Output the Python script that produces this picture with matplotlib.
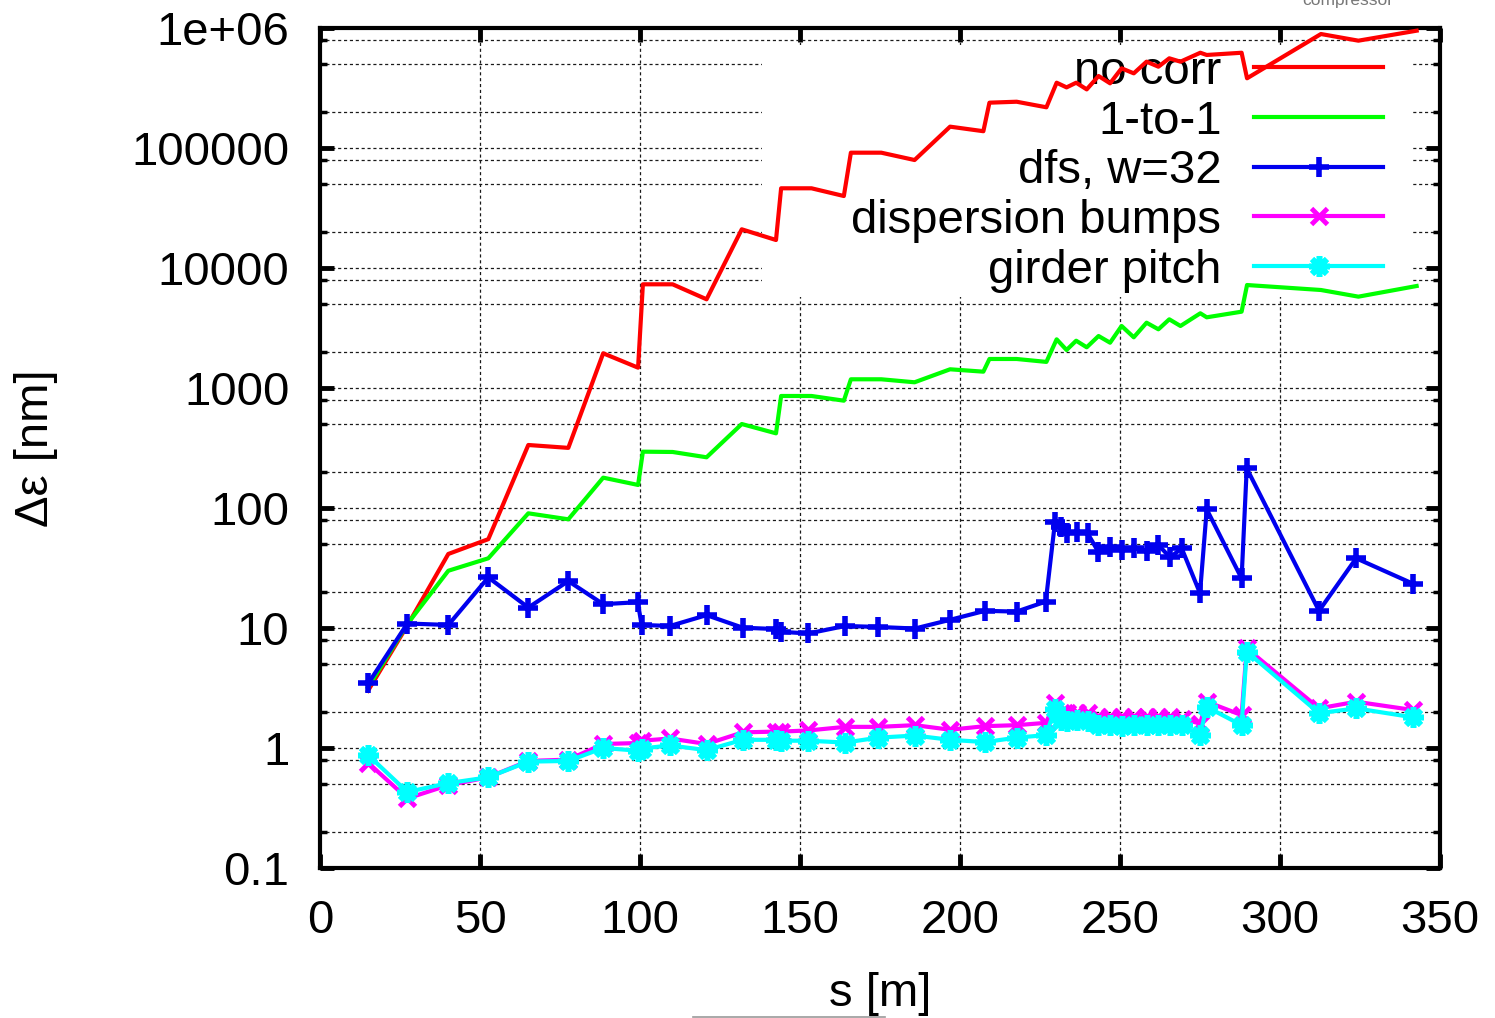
#!/usr/bin/env python3
import matplotlib

matplotlib.use("Agg")
import matplotlib.pyplot as plt
from matplotlib.lines import Line2D
from matplotlib.patches import Rectangle
from matplotlib.ticker import FuncFormatter, LogLocator, MultipleLocator, NullFormatter

OUTPUT_FILE = "out.png"

# positions along the beamline [m], for the two lines without markers
s_lines = [15.0, 27.3, 40.1, 52.6, 65.1, 77.6, 88.5, 99.4, 100.9, 110.2,
           120.8, 131.8, 142.5, 144.1, 153.6, 163.7, 165.9, 175.4, 185.8, 196.9,
           207.3, 209.2, 217.7, 227.0, 230.2, 233.3, 236.3, 239.6, 243.3, 246.9,
           250.5, 254.3, 258.3, 262.0, 265.4, 268.9, 275.1, 277.1, 288.0, 289.7,
           312.8, 324.5, 342.7]

no_corr = [3.0, 10.5, 41.4, 55.0, 335, 317, 1946, 1477, 7313, 7313,
           5486, 21010, 17110, 46150, 46150, 39800, 91400, 91400, 79400, 150600,
           138000, 238600, 243000, 218400, 350000, 320000, 350000, 308000, 398000, 346000,
           461000, 419000, 524000, 476000, 559000, 524000, 622000, 596000, 622000, 381000,
           891000, 784000, 950000]

one_to_one = [3.2, 10.8, 30.0, 38.1, 90.3, 80.5, 179, 155.6, 294.7, 293,
              264.6, 501, 419, 858, 858, 784, 1182, 1182, 1116, 1432,
              1368, 1745, 1745, 1650, 2545, 2074, 2478, 2184, 2712, 2385,
              3287, 2646, 3500, 3084, 3736, 3287, 4194, 3882, 4325, 7213,
              6556, 5770, 7079]

# positions for the corrected cases (with markers)
s_marks = [15.1, 27.3, 40.1, 52.6, 65.1, 77.6, 88.5, 99.3, 100.5, 109.4,
           120.8, 132.1, 142.6, 144.0, 152.6, 164.1, 174.5, 185.9, 196.9, 207.8,
           217.7, 226.8, 229.7, 231.5, 233.3, 236.5, 239.9, 243.2, 246.9, 250.5,
           254.5, 258.3, 262.0, 265.6, 269.3, 275.0, 277.1, 288.0, 289.6, 312.2,
           323.8, 341.7]

dfs_w32 = [3.46, 10.9, 10.6, 26.4, 14.8, 24.6, 15.8, 16.4, 10.6, 10.4,
           12.8, 10.06, 9.8, 9.3, 9.0, 10.4, 10.2, 9.9, 11.7, 13.9,
           13.7, 16.6, 77, 69.9, 62.2, 63, 61.5, 43.2, 47.6, 44.7,
           46.7, 44.0, 49.2, 38.8, 46, 19.5, 97.5, 25.9, 214, 13.9,
           38.1, 23.3]

disp_bumps = [0.75, 0.38, 0.49, 0.57, 0.78, 0.8, 1.08, 1.1, 1.15, 1.2,
              1.08, 1.35, 1.37, 1.37, 1.4, 1.5, 1.5, 1.55, 1.42, 1.52,
              1.55, 1.62, 2.35, 1.95, 1.95, 1.95, 1.95, 1.82, 1.8, 1.82,
              1.82, 1.82, 1.82, 1.82, 1.75, 1.6, 2.43, 1.88, 6.77, 2.14,
              2.43, 2.07]

girder_pitch = [0.87, 0.43, 0.51, 0.57, 0.77, 0.78, 1.0, 0.95, 0.99, 1.05,
                0.96, 1.17, 1.17, 1.15, 1.15, 1.11, 1.22, 1.27, 1.17, 1.12,
                1.22, 1.28, 2.1, 1.7, 1.68, 1.7, 1.68, 1.55, 1.55, 1.52,
                1.55, 1.55, 1.55, 1.55, 1.55, 1.28, 2.2, 1.55, 6.35, 1.95,
                2.14, 1.8]

FS = 34


def main():
    plt.rcParams["font.family"] = ["Liberation Sans", "DejaVu Sans"]

    fig = plt.figure(figsize=(14.95, 10.18), dpi=100)
    ax = fig.add_axes([320 / 1495, 150 / 1018, 1120 / 1495, 840 / 1018])
    ax.set_yscale("log")
    ax.set_xlim(0, 350)
    ax.set_ylim(0.1, 1e6)
    ax.set_axisbelow(True)

    # ticks like gnuplot: inward, on all four sides
    ax.xaxis.set_major_locator(MultipleLocator(50))
    ax.yaxis.set_major_locator(LogLocator(base=10, numticks=20))
    ax.yaxis.set_minor_locator(LogLocator(base=10, subs=[2, 5, 8], numticks=20))
    ax.yaxis.set_minor_formatter(NullFormatter())
    ax.yaxis.set_major_formatter(FuncFormatter(lambda v, p: f"{v:g}"))
    ax.tick_params(which="both", direction="in", top=True, right=True,
                   labelsize=FS, pad=22)
    ax.tick_params(which="major", length=10, width=3.5)
    ax.tick_params(which="minor", length=5, width=2.5)
    for sp in ax.spines.values():
        sp.set_linewidth(3)

    grid_kw = dict(color="0.1", linewidth=0.9, linestyle=(0, (2.5, 2.2)))
    ax.grid(True, which="both", axis="y", **grid_kw)
    ax.grid(True, which="major", axis="x", **grid_kw)

    # the key box hides the grid behind it
    ax.add_patch(Rectangle((0.3946, 0.68), 0.975 - 0.3946, 0.30,
                           transform=ax.transAxes, facecolor="white",
                           edgecolor="none", zorder=1))

    lw = 3
    ax.plot(s_lines, no_corr, color="#ff0000", lw=lw, label="no corr", zorder=3)
    ax.plot(s_lines, one_to_one, color="#00ff00", lw=lw, label="1-to-1", zorder=3)
    ax.plot(s_marks, dfs_w32, color="#0000ee", lw=lw, marker="+", ms=15, mew=4,
            label="dfs, w=32", zorder=3)
    ax.plot(s_marks, disp_bumps, color="#ff00ff", lw=lw, marker="x", ms=11, mew=3.5,
            label="dispersion bumps", zorder=3)
    ax.plot(s_marks, girder_pitch, color="#00ffff", lw=lw, marker=(8, 2, 0), ms=15,
            mew=4, label="girder pitch", zorder=3)

    leg = ax.legend(loc="upper right", bbox_to_anchor=(0.949, 0.974),
                    fontsize=FS, frameon=False, markerfirst=False, numpoints=1,
                    handlelength=2.72, handletextpad=0.7, labelspacing=0.12,
                    borderpad=0, borderaxespad=0)
    leg.set_zorder(2)

    ax.set_xlabel("s [m]", fontsize=FS)
    ax.set_ylabel("Δε [nm]", fontsize=FS)
    ax.xaxis.set_label_coords(0.5, -0.124)
    ax.yaxis.set_label_coords(-0.234, 0.5)

    # leftovers from the slide this plot was cut from
    fig.text(1348 / 1495, 1 - 5 / 1018, "compressor", ha="center", va="baseline",
             fontsize=12.5, color="#777777")
    fig.add_artist(Line2D([693 / 1495, 885 / 1495], [1 - 1017 / 1018] * 2,
                          transform=fig.transFigure, color="#999999", lw=1.2))

    fig.savefig(OUTPUT_FILE, dpi=100)
    plt.close(fig)


if __name__ == "__main__":
    main()
